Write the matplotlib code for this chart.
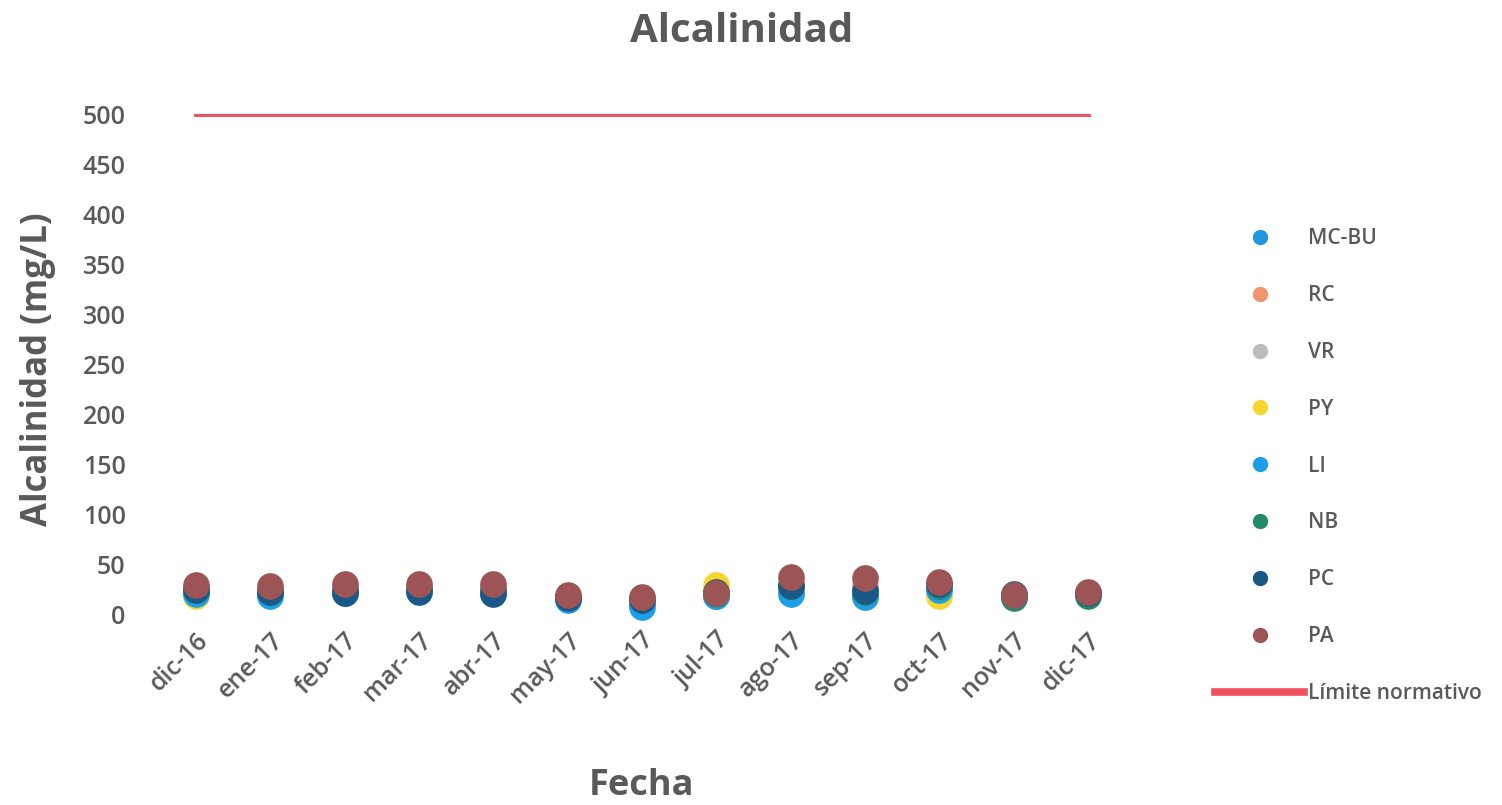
import numpy as np
import matplotlib
matplotlib.use('Agg')
import matplotlib.pyplot as plt
from matplotlib.lines import Line2D

plt.rcParams['font.family'] = ['Open Sans', 'DejaVu Sans']

months = ['dic-16', 'ene-17', 'feb-17', 'mar-17', 'abr-17', 'may-17', 'jun-17',
          'jul-17', 'ago-17', 'sep-17', 'oct-17', 'nov-17', 'dic-17']

mc_bu = [22, 20, 21, 23, 21, 15, 10, 18, 22, 19, 26, 18, 20]
rc = [26, 25, 26, 27, 26, 18, 16, 22, 30, 28, 29, 19, 21]
vr = [25, 24, 25, 26, 25, 17, 15, 21, 29, 27, 28, 18, 20]
py = [18, 20, 22, 24, 22, 16, 14, 29, 23, 17, 18, 18, 20]
li = [20, 18, 22, 24, 22, 14, 7, 18, 20, 17, 24, 17, 20]
nb = [24, 22, 24, 25, 24, 17, 15, 20, 28, 22, 28, 16, 18]
pc = [24, 22, 21, 22, 20, 16, 14, 22, 28, 23, 30, 20, 21]
pa = [29, 28, 30, 30, 30, 19, 17, 21, 37, 36, 32, 19, 22]
limite = [500] * len(months)

series = [('MC-BU', mc_bu, '#1f96de'), ('RC', rc, '#f2956c'),
          ('VR', vr, '#bdbdbd'), ('PY', py, '#f7d531'),
          ('LI', li, '#1c9fe6'), ('NB', nb, '#23896b'),
          ('PC', pc, '#1a5888'), ('PA', pa, '#9c5455')]

grey = '#595959'
fig = plt.figure(figsize=(15.02, 8.05), dpi=100)
ax = fig.add_axes([159 / 1502, 191 / 805, 966 / 1502, 500 / 805])

x = np.arange(len(months))
for name, vals, col in series:
  ax.scatter(x, vals, s=330, color=col, label=name, clip_on=False, zorder=3)
ax.plot(x, limite, color='#f0505e', lw=3.5, label='Límite normativo', zorder=2)

ax.set_xlim(-0.5, len(months) - 0.5)
ax.set_ylim(0, 500)
ax.set_yticks(range(0, 501, 50))
ax.set_xticks(x)
ax.set_xticklabels(months, rotation=45, ha='right', rotation_mode='anchor')
ax.tick_params(axis='y', length=0, pad=24, labelsize=18, labelcolor=grey)
ax.tick_params(axis='x', length=0, pad=10, labelsize=18, labelcolor=grey)
for lab in ax.get_xticklabels() + ax.get_yticklabels():
  lab.set_fontweight('semibold')
for s in ax.spines.values():
  s.set_visible(False)

ax.set_ylabel('Alcalinidad (mg/L)', fontsize=25, fontweight='bold', color=grey)
ax.yaxis.set_label_coords(-0.107, 0.49)
ax.set_xlabel('Fecha', fontsize=26, fontweight='bold', color=grey, labelpad=43)
fig.text(742 / 1502, 1 - 32 / 805, 'Alcalinidad', ha='center', va='center',
         fontsize=29, fontweight='bold', color=grey)

handles = [Line2D([], [], ls='', marker='o', ms=10, color=c) for _, _, c in series]
handles.append(Line2D([], [], color='#f0505e', lw=5.5))
labels = [n for n, _, _ in series] + ['Límite normativo']
leg = fig.legend(handles, labels, loc='center left',
                 bbox_to_anchor=(1196 / 1502, 1 - 466 / 805), frameon=False,
                 fontsize=15, labelspacing=1.72, handlelength=4.3,
                 handletextpad=0.2, labelcolor=grey)
for t in leg.get_texts():
  t.set_fontweight('semibold')

fig.savefig('out.png', dpi=100, facecolor='white')
